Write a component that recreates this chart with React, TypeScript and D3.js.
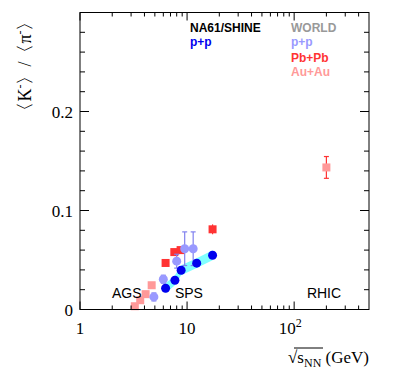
import React from "react";
import * as d3 from "d3";

// NA61/SHINE p+p
const na61Energy = [6.3, 7.7, 8.8, 12.3, 17.3];
const na61Ratio = [0.0215, 0.0296, 0.0397, 0.0468, 0.0548];
const na61Sys = [0.005, 0.005, 0.005, 0.005, 0.005];

// world p+p
const ppEnergy = [4.9, 6.0, 8.0, 9.5, 11.4];
const ppRatio = [0.0127, 0.0306, 0.0488, 0.0614, 0.0614];
const ppErr = [0.004, 0.004, 0.007, 0.017, 0.017];

// Pb+Pb
const pbEnergy = [6.3, 7.6, 8.7, 17.3];
const pbRatio = [0.047, 0.058, 0.06, 0.081];
const pbErr = [0, 0, 0, 0.005];

// Au+Au
const auEnergy = [3.25, 3.65, 4.1, 4.67, 200];
const auRatio = [0.0033, 0.0094, 0.0155, 0.0245, 0.1435];
const auErr = [0, 0, 0, 0, 0.011];

const xMajor = [1, 10, 100];
const xMinor = [2, 3, 4, 5, 6, 7, 8, 9, 20, 30, 40, 50, 60, 70, 80, 90, 200, 300, 400];
const yMajor = [0, 0.1, 0.2];
const yMinor = d3.range(0.02, 0.3, 0.02);
const regions = [
  { name: "AGS", e: 2.73 },
  { name: "SPS", e: 10.4 },
  { name: "RHIC", e: 190 },
];

const W = 399;
const H = 388;
const L = 80;
const R = 369;
const T = 12.5;
const B = 309.5;

const blue = "#0000ee";
const lav = "#9999ff";
const red = "#ff3333";
const pink = "#ff9999";

export default function App() {
  const x = d3.scaleLog().domain([1, 500]).range([L, R]);
  const y = d3.scaleLinear().domain([0, 0.3]).range([B, T]);

  const band = d3
    .area<number>()
    .x((_, i) => x(na61Energy[i]))
    .y0((d, i) => y(d - na61Sys[i]))
    .y1((d, i) => y(d + na61Sys[i]));

  const errBar = (e: number, v: number, err: number, color: string, key: string, cap = true) =>
    err > 0 ? (
      <g key={key} stroke={color} strokeWidth={1.2}>
        <line x1={x(e)} x2={x(e)} y1={y(v - err)} y2={y(v + err)} />
        {cap && (
          <>
            <line x1={x(e) - 2.5} x2={x(e) + 2.5} y1={y(v - err)} y2={y(v - err)} />
            <line x1={x(e) - 2.5} x2={x(e) + 2.5} y1={y(v + err)} y2={y(v + err)} />
          </>
        )}
      </g>
    ) : null;

  const serif = "'Liberation Serif', 'Times New Roman', serif";
  const sans = "'Liberation Sans', Arial, Helvetica, sans-serif";

  return (
    <svg
      width={W}
      height={H}
      style={{ position: "absolute", left: 0, top: 0, background: "#fff" }}
    >
      <rect width={W} height={H} fill="#fff" />

      {/* systematic band */}
      <path d={band(na61Ratio) || ""} fill="#80ffff" />

      {/* Au+Au */}
      {auEnergy.map((e, i) => errBar(e, auRatio[i], auErr[i], red, "ae" + i))}
      {auEnergy.map((e, i) => (
        <rect key={"a" + i} x={x(e) - 4} y={y(auRatio[i]) - 4} width={8} height={8} fill={pink} />
      ))}

      {/* Pb+Pb */}
      {pbEnergy.map((e, i) => errBar(e, pbRatio[i], pbErr[i], red, "pe" + i, false))}
      {pbEnergy.map((e, i) => (
        <rect key={"p" + i} x={x(e) - 4} y={y(pbRatio[i]) - 4} width={8} height={8} fill={red} />
      ))}

      {/* world p+p */}
      {ppEnergy.map((e, i) => errBar(e, ppRatio[i], ppErr[i], "#8080ee", "we" + i))}
      {ppEnergy.map((e, i) => (
        <circle key={"w" + i} cx={x(e)} cy={y(ppRatio[i])} r={4.5} fill={lav} />
      ))}

      {/* NA61 p+p */}
      {na61Energy.map((e, i) => (
        <circle key={"n" + i} cx={x(e)} cy={y(na61Ratio[i])} r={4.5} fill={blue} />
      ))}

      {/* frame */}
      <rect x={L} y={T} width={R - L} height={B - T} fill="none" stroke="#000" strokeWidth={1} />
      <g stroke="#000" strokeWidth={1}>
        {xMajor.map((v) => (
          <g key={"xm" + v}>
            <line x1={x(v)} x2={x(v)} y1={B} y2={B - 8} />
            <line x1={x(v)} x2={x(v)} y1={T} y2={T + 8} />
          </g>
        ))}
        {xMinor.map((v) => (
          <g key={"xn" + v}>
            <line x1={x(v)} x2={x(v)} y1={B} y2={B - 4} />
            <line x1={x(v)} x2={x(v)} y1={T} y2={T + 4} />
          </g>
        ))}
        {yMajor.map((v) => (
          <g key={"ym" + v}>
            <line x1={L} x2={L + 9} y1={y(v)} y2={y(v)} />
            <line x1={R} x2={R - 9} y1={y(v)} y2={y(v)} />
          </g>
        ))}
        {yMinor.map((v) => (
          <g key={"yn" + v}>
            <line x1={L} x2={L + 5} y1={y(v)} y2={y(v)} />
            <line x1={R} x2={R - 5} y1={y(v)} y2={y(v)} />
          </g>
        ))}
      </g>

      {/* tick labels */}
      <g fontFamily={serif} fontSize={17} fill="#000">
        <text x={x(1)} y={334} textAnchor="middle">1</text>
        <text x={x(10)} y={334} textAnchor="middle">10</text>
        <text x={x(100) - 4} y={334} textAnchor="middle">
          10<tspan dy={-7} fontSize={12}>2</tspan>
        </text>
        {yMajor.map((v) => (
          <text key={"yl" + v} x={73} y={y(v) + 6} textAnchor="end">
            {v === 0 ? "0" : v.toFixed(1)}
          </text>
        ))}
      </g>

      {/* axis titles */}
      <text
        transform={`translate(31,${T}) rotate(-90)`}
        textAnchor="end"
        fontFamily={serif}
        fontSize={18}
      >
        〈K<tspan dy={-7} fontSize={12}>-</tspan>
        <tspan dy={7}>〉/〈π</tspan>
        <tspan dy={-7} fontSize={12}>-</tspan>
        <tspan dy={7}>〉</tspan>
      </text>
      <g fontFamily={serif} fontSize={17}>
        <text x={R} y={363} textAnchor="end">
          √s<tspan dy={4} fontSize={12}>NN</tspan>
          <tspan dy={-4}> (GeV)</tspan>
        </text>
        <line x1={294} x2={323} y1={348} y2={348} stroke="#000" strokeWidth={1} />
      </g>

      {/* region labels */}
      <g fontFamily={sans} fontSize={14} textAnchor="middle">
        {regions.map((r) => (
          <text key={r.name} x={x(r.e)} y={298}>
            {r.name}
          </text>
        ))}
      </g>

      {/* legend */}
      <g fontFamily={sans} fontSize={12} fontWeight="bold">
        <text x={190} y={32} fill="#000">NA61/SHINE</text>
        <text x={190} y={46} fill={blue}>p+p</text>
        <text x={291} y={32} fill="#999">WORLD</text>
        <text x={291} y={46} fill={lav}>p+p</text>
        <text x={291} y={62} fill={red}>Pb+Pb</text>
        <text x={291} y={76} fill={pink}>Au+Au</text>
      </g>
    </svg>
  );
}
